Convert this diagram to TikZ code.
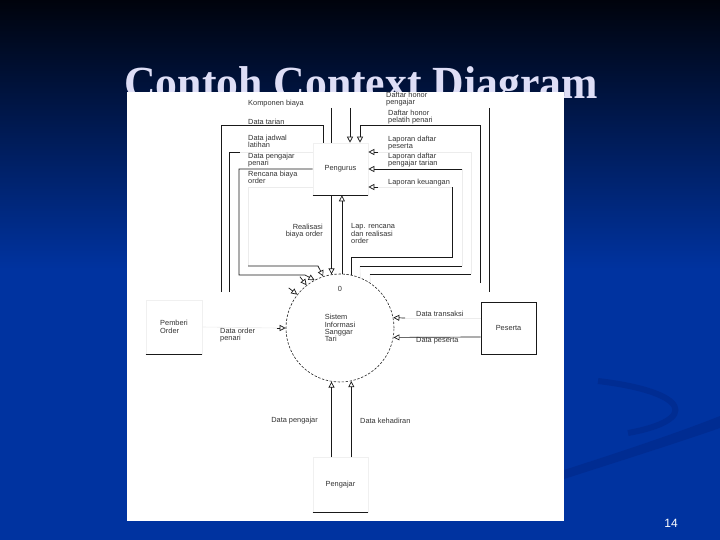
\documentclass[tikz,border=0pt]{standalone}
\usepackage{fontspec}
\setmainfont{Liberation Serif}
\newfontfamily\diagfont{Liberation Sans}
\usetikzlibrary{arrows.meta, positioning, calc}
\definecolor{slideblue}{RGB}{0,51,160}
\definecolor{slidetop}{RGB}{0,3,12}
\definecolor{swoosh}{RGB}{0,44,146}
\definecolor{titlecol}{RGB}{222,222,246}

\begin{document}
\begin{tikzpicture}[
    x=1pt, y=-1pt,
    lab/.style={font=\diagfont\fontsize{7.4}{7.6}\selectfont, text=black!80, inner sep=0pt, align=left},
    entity/.style={rectangle, draw=gray!12, line width=0.6pt, minimum width=55pt, minimum height=52pt, inner sep=0pt, font=\diagfont\fontsize{7.4}{7.6}\selectfont, text=black!80, align=left},
    process/.style={circle, draw=black!85, line width=0.6pt, dash pattern=on 2.4pt off 1.6pt, minimum size=108pt, inner sep=0pt, font=\diagfont\fontsize{7.4}{7.2}\selectfont, text=black!80, align=left},
    flow/.style={line width=0.7pt, black!90},
    faint/.style={line width=0.6pt, gray!15},
    flowtip/.style={flow, -{Triangle[open, length=6pt, width=6pt]}}
]
\useasboundingbox (0,0) rectangle (720,540);

% Slide background
\shade[top color=slidetop, bottom color=slideblue] (0,0) rectangle (720,270);
\fill[slideblue] (0,270) rectangle (720,540);
% swoosh lower right
\fill[swoosh] (564,470) .. controls (620,452) and (680,432) .. (720,416) -- (720,428) .. controls (680,442) and (620,461) .. (564,479) -- cycle;
\draw[swoosh, line width=6pt] (598,381) .. controls (690,392) and (700,420) .. (628,433);

% Title
\node[font=\bfseries\fontsize{46}{46}\selectfont, text=titlecol, anchor=base] (title) at (361,99) {\scalebox{0.95}[1]{Contoh Context Diagram}};

% Scanned sheet
\fill[white] (127,92) rectangle (564,521);

% Slide number
\node[font=\diagfont\fontsize{12}{12}\selectfont, text=white] (pgnum) at (671,523) {14};

% Process and entities
\node[process] (proc) at (340,328) {Sistem\\Informasi\\Sanggar\\Tari};
\node[lab] (pnum) at (340,289) {0};
\node[entity] (pengurus) at (340.5,169) {Pengurus};
\node[entity, minimum width=56pt, minimum height=54pt] (pemberi) at (174,327) {Pemberi\\Order};
\node[entity, draw=black!90] (peserta) at (508.5,328) {Peserta};
\node[entity, minimum height=55pt] (pengajar) at (340.5,485) {Pengajar};
\draw[flow] (pengurus.south west) -- (pengurus.south east);
\draw[flow] (pemberi.south west) -- (pemberi.south east);
\draw[flow] (pengajar.south west) -- (pengajar.south east);

% Pengurus <-> process
\draw[flowtip] (pengurus.south -| proc.99) -- (proc.99);
\draw[flowtip] (proc.88) -- (pengurus.south -| proc.88);
\coordinate (kcorner) at (452,257);
\coordinate (kfoot) at (452,187);
\draw[flow] (proc.78) |- (kcorner) -- (kfoot);
\draw[faint] (kfoot) -- (378,187);
\draw[flowtip] (378,187) -- ($(pengurus.east)+(0,18)$);

% right hand loops
\draw[faint] (proc.68) -- (360,266);
\draw[flow] (360,266) -- (462,266);
\draw[faint] (462,266) -- (462,169);
\draw[flowtip] (462,169) -- (pengurus.east);
\draw[faint] (proc.56) -- (370,274);
\draw[flow] (370,274) -- (471,274);
\draw[faint] (471,274) |- (378,152);
\draw[flowtip] (378,152) -- ($(pengurus.east)+(0,-17)$);

% top flows
\coordinate (kbtop) at (331,108);
\draw[flow] (kbtop) -- (kbtop |- pengurus.north);
\coordinate (dhtop) at (350,108);
\draw[flowtip] (dhtop) -- (dhtop |- pengurus.north);
\coordinate (hp) at (360,125);
\draw[flowtip] (480,283) |- (hp) -- (hp |- pengurus.north);
\draw[flow] (489,108) -- (489,292);

% left hand loops
\coordinate (tarianA) at (221,292);
\coordinate (tarianB) at (323,125);
\draw[flow] (tarianA) |- (tarianB) -- (tarianB |- pengurus.north);
\coordinate (jadwalA) at (229,292);
\draw[flow] (jadwalA) |- (240,152);
\draw[faint] (240,152) -- ($(pengurus.west)+(0,-17)$);
\draw[flowtip] (pengurus.west) -| (239,275) -- (305,275) -- (proc.118);
\draw[faint] ($(pengurus.west)+(0,18)$) -| (248,266);
\draw[flowtip] (248,266) -- (318,266) -- (proc.108);
\draw[flowtip] ($(proc.center)!1.2!(proc.128)$) -- (proc.128);
\draw[flowtip] ($(proc.center)!1.2!(proc.142)$) -- (proc.142);

% Pemberi Order, Peserta, Pengajar
\draw[faint] (pemberi.east) -- ($(proc.west)+(-9,0)$);
\draw[flowtip] ($(proc.west)+(-9,0)$) -- (proc.west);
\draw[faint] ($(peserta.west)+(0,-10)$) -- (405,318);
\draw[flowtip] (405,318) -- (proc.11);
\draw[flowtip] ($(peserta.west)+(0,9)$) -- (proc.-10);
\draw[flowtip] (pengajar.north -| proc.-99) -- (proc.-99);
\draw[flowtip] (pengajar.north -| proc.-78) -- (proc.-78);

% Labels
\node[lab, anchor=west] (kb) at (248,104) {Komponen biaya};
\node[lab, anchor=west] (dt) at (248,121.5) {Data tarian};
\node[lab, anchor=north west] (dj) at (248,134.5) {Data jadwal\\latihan};
\node[lab, anchor=north west] (dpp) at (248,152.5) {Data pengajar\\penari};
\node[lab, anchor=north west] (rb) at (248,170.5) {Rencana biaya\\order};
\node[lab, anchor=north west] (dh1) at (386,91.5) {Daftar honor\\pengajar};
\node[lab, anchor=north west] (dh2) at (388,109.5) {Daftar honor\\pelatih penari};
\node[lab, anchor=north west] (ldp) at (388,135.5) {Laporan daftar\\peserta};
\node[lab, anchor=north west] (ldt) at (388,152.5) {Laporan daftar\\pengajar tarian};
\node[lab, anchor=west] (lk) at (388,183) {Laporan keuangan};
\node[lab, anchor=north east, align=right] (rbo) at (323,223.5) {Realisasi\\biaya order};
\node[lab, anchor=north west] (lrr) at (351,223.5) {Lap. rencana\\dan realisasi\\order};
\node[lab, anchor=north west] (dop) at (220,327.5) {Data order\\penari};
\node[lab, anchor=west] (dtr) at (416,314) {Data transaksi};
\node[lab, anchor=west] (dps) at (416,341) {Data peserta};
\node[lab, anchor=east] (dpj) at (318,421) {Data pengajar};
\node[lab, anchor=west] (dkh) at (360,421) {Data kehadiran};
\end{tikzpicture}
\end{document}
